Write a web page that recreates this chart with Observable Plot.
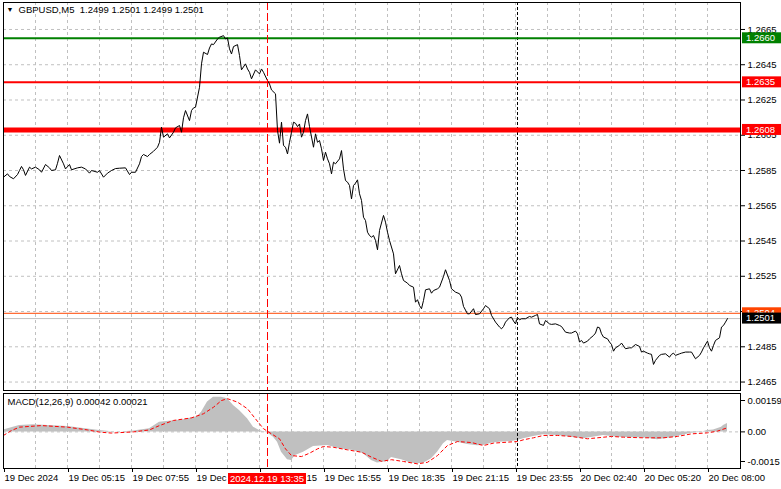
<!DOCTYPE html>
<html><head><meta charset="utf-8">
<script src="https://cdn.jsdelivr.net/npm/d3@7"></script>
<script src="https://cdn.jsdelivr.net/npm/@observablehq/plot@0.6"></script>
<style>
html,body{margin:0;padding:0;background:#fff;}
#chart{position:relative;width:781px;height:489px;overflow:hidden;background:#fff;}
#chart svg{position:absolute;left:0;}
</style></head><body><div id="chart"></div>
<script>
// ---------- data ----------
const symbol = "GBPUSD,M5";
const ohlc = [1.2499, 1.2501, 1.2499, 1.2501];
const macdParams = [12, 26, 9];
const macdNow = [0.00042, 0.00021];

const priceBar = [0,2,3,5,7,8,9,10,11,13,14,16,18,19,21,23,24,26,27,28,30,31,33,34,37,39,41,43,44,47,48,50,52,54,56,58,61,63,64,66,68,69,70,72,73,75,77,78,79,80,82,83,85,86,88,89,90,91,93,94,95,96,98,99,100,102,103,104,105,107,108,110,111,112,113,114,115,117,118,119,121,122,123,
124,126,128,129,130,132,133,134,136,
137,138,139,140,141,142,143,144,145,146,147,148,149,150,151,152,153,155,156,157,158,159,160,161,162,163,164,165,166,168,169,170,171,172,173,174,175,176,177,178,179,180,181,182,183,184,185,186,187,188,190,191,192,193,195,196,198,199,200,202,203,205,206,207,208,209,210,211,213,214,215,217,218,220,221,223,224,226,228,229,230,232,233,235,236,238,240,241,243,244,
246,248,249,250,251,253,254,255,256,257,258,259,261,263,264,266,267,268,270,271,273,274,276,278,279,281,283,284,286,287,288,289,290,292,293,295,296,297,298,299,300,302,303,304,305,306,308,309,311,313,314,316,318,319,320,322,323,324,325,326,328,329,331,333,334,335,336,338,339,341,343,344,346,348,349,350,352,353,354,355,356,358,359,360,361,362];
const priceClose = [1.25812,1.25831,1.25816,1.25803,1.25827,1.25850,1.25873,1.25854,1.25822,1.25869,1.25859,1.25869,1.25854,1.25840,1.25884,1.25865,1.25850,1.25854,1.25891,1.25935,1.25888,1.25859,1.25884,1.25854,1.25865,1.25869,1.25859,1.25835,1.25850,1.25840,1.25850,1.25812,1.25835,1.25850,1.25861,1.25863,1.25865,1.25827,1.25840,1.25840,1.25888,1.25929,1.25941,1.25929,1.25941,1.25959,1.25982,1.26010,1.26096,1.26039,1.26058,1.26035,1.26067,1.26092,1.26105,1.26067,1.26149,1.26190,1.26133,1.26190,1.26205,1.26209,1.26322,1.26455,1.26521,1.26508,1.26545,1.26568,1.26564,1.26596,1.26606,1.26615,1.26596,1.26602,1.26540,1.26511,1.26553,1.26564,1.26502,1.26421,1.26455,1.26426,1.26407,
1.26370,1.26421,1.26398,1.26426,1.26407,1.26360,1.26341,1.26307,1.26285,
1.26077,1.26005,1.26124,1.25992,1.25982,1.25944,1.26010,1.26067,1.26124,1.26118,1.26099,1.26114,1.26039,1.26067,1.26133,1.26171,1.26099,1.25982,1.26058,1.26010,1.26020,1.25973,1.25907,1.25954,1.25916,1.25888,1.25831,1.25897,1.25888,1.25916,1.25963,1.25859,1.25793,1.25784,1.25765,1.25689,1.25765,1.25778,1.25797,1.25718,1.25680,1.25585,1.25566,1.25500,1.25481,1.25472,1.25481,1.25453,1.25400,1.25510,1.25595,1.25557,1.25500,1.25453,1.25377,1.25264,1.25311,1.25264,1.25226,1.25211,1.25198,1.25188,1.25103,1.25117,1.25084,1.25066,1.25113,1.25173,1.25179,1.25154,1.25169,1.25179,1.25188,1.25249,1.25287,1.25226,1.25179,1.25160,1.25151,1.25132,1.25079,1.25037,1.25037,1.25066,1.25033,1.25037,1.25066,1.25084,1.25066,1.25028,
1.24990,1.24962,1.24952,1.24965,1.24990,1.25015,1.25018,1.24996,1.24980,1.25015,1.25003,1.25009,1.25009,1.25022,1.25018,1.25028,1.25033,1.24980,1.24971,1.24999,1.24980,1.24977,1.24980,1.24971,1.24965,1.24933,1.24928,1.24928,1.24939,1.24924,1.24877,1.24886,1.24871,1.24882,1.24895,1.24914,1.24928,1.24962,1.24958,1.24924,1.24905,1.24895,1.24877,1.24863,1.24825,1.24844,1.24858,1.24871,1.24839,1.24844,1.24844,1.24863,1.24852,1.24820,1.24825,1.24814,1.24810,1.24807,1.24750,1.24773,1.24801,1.24807,1.24810,1.24791,1.24807,1.24814,1.24801,1.24810,1.24814,1.24820,1.24820,1.24820,1.24782,1.24801,1.24820,1.24844,1.24882,1.24844,1.24825,1.24858,1.24886,1.24901,1.24962,1.24971,1.24990,1.25010];

const histBar = [0,8,15,32,48,57,65,73,78,90,97,99,102,105,109,112,115,118,122,125,128,132,135,137,139,142,144,146,150,155,162,168,175,180,184,187,192,194,199,204,207,210,214,217,220,222,227,232,237,240,244,248,254,257,260,265,270,277,284,290,297,300,307,314,320,327,334,339,344,349,352,355,359,360,362];
const histValue = [0.0001,0.00032,0.00036,0.00027,0.00007,-0.00002,0.00004,0.00016,0.00049,0.00061,0.00078,0.001,0.00151,0.00176,0.00176,0.00168,0.00134,0.00108,0.00066,0.00024,0.00007,-0.00005,-0.00027,-0.00052,-0.00103,-0.00141,-0.00145,-0.0012,-0.00103,-0.00074,-0.00069,-0.00086,-0.00094,-0.00111,-0.00145,-0.00158,-0.0015,-0.0013,-0.00141,-0.00159,-0.00162,-0.00159,-0.00136,-0.00103,-0.0006,-0.00044,-0.00052,-0.00064,-0.0007,-0.00069,-0.00057,-0.00052,-0.00049,-0.00044,-0.00035,-0.00023,-0.00015,-0.00018,-0.00027,-0.00035,-0.00023,-0.00018,-0.00027,-0.0003,-0.0003,-0.0004,-0.0003,-0.00018,-0.00007,-0.00002,0.00007,0.0001,0.00024,0.00033,0.00042];

const signalBar = [0,4,8,19,32,42,48,54,65,73,78,85,94,100,105,109,112,117,122,126,130,134,138,141,144,149,153,157,160,165,172,179,184,189,194,200,207,212,217,222,227,234,240,245,252,257,260,265,270,277,284,292,297,304,310,320,330,337,344,352,357,362];
const signalValue = [-0.00018,0.00007,0.00024,0.00032,0.00024,0.0001,-0.00001,-0.00006,0.0,0.0001,0.00032,0.00058,0.00071,0.00092,0.00125,0.00159,0.00168,0.00151,0.00117,0.00066,0.00016,-0.0001,-0.00035,-0.00086,-0.0012,-0.00125,-0.00108,-0.00086,-0.00074,-0.00078,-0.00091,-0.00103,-0.00128,-0.00149,-0.00141,-0.0015,-0.00162,-0.00154,-0.0012,-0.00069,-0.00049,-0.00054,-0.00069,-0.00057,-0.00052,-0.00049,-0.0004,-0.0003,-0.00018,-0.00018,-0.00023,-0.00035,-0.0003,-0.00023,-0.00027,-0.0003,-0.0003,-0.00023,-0.0001,-0.00005,0.00004,0.00021];

const levelPrices = [1.2660, 1.2635, 1.2608, 1.2504];
const bidPrice = 1.2501;
const priceTicks = [1.2665,1.2645,1.2625,1.2605,1.2585,1.2565,1.2545,1.2525,1.2505,1.2485,1.2465];
const macdTicks = [0.00159, 0, -0.0015];
const macdTickLabels = ["0.00159", "0.00", "-0.0015"];
const timeTicks = [0,32,64,96,128,160,192,224,256,288,320,352];
const timeLabels = ["19 Dec 2024","19 Dec 05:15","19 Dec 07:55","19 Dec 10:35","19 Dec 13:15","19 Dec 15:55","19 Dec 18:35","19 Dec 21:15","19 Dec 23:55","20 Dec 02:40","20 Dec 05:20","20 Dec 08:00"];
const crossBar = 132;
const crossLabel = "2024.12.19 13:35";
const daySepBar = 257;
const gridBars = d3.range(16, 368, 16);

// ---------- styles ----------
const FONT = '"Liberation Sans", Arial, sans-serif';
const FS = "9.5px";
const levelStyle = [
  {color: "#008000", width: 2},
  {color: "#ff0000", width: 2},
  {color: "#ff0000", width: 5},
  {color: "#ff4500", width: 1}
];
const GRID = {stroke: "#c0c0c0", strokeOpacity: 1, strokeDasharray: "3,3", strokeWidth: 1};
const W = 781;
const xDomain = [0, 368.5];

const priceRows = priceBar.map((b, i) => ({bar: b, close: priceClose[i]}));
const histRows = histBar.map((b, i) => ({bar: b, value: histValue[i]}));
const sigRows = signalBar.map((b, i) => ({bar: b, value: signalValue[i]}));
const levelRows = levelPrices.map((p, i) => ({price: p, ...levelStyle[i]}));
const fmt4 = d3.format(".4f");

const main = Plot.plot({
  width: W, height: 392,
  marginLeft: 3, marginRight: 41, marginTop: 2, marginBottom: 2,
  style: {fontFamily: FONT, fontSize: FS, color: "#000", background: "#fff", overflow: "visible"},
  x: {domain: xDomain, axis: null, label: null},
  y: {domain: [1.24602, 1.26803], axis: null, label: null},
  marks: [
    Plot.ruleX(gridBars, GRID),
    Plot.ruleY(priceTicks, GRID),
    Plot.ruleX([daySepBar], {stroke: "#000", strokeDasharray: "3,2"}),
    Plot.ruleY([bidPrice], {stroke: "#c0c0c0"}),
    ...levelRows.map(r => Plot.ruleY([r.price], {stroke: r.color, strokeWidth: r.width})),
    Plot.line(priceRows, {x: "bar", y: "close", stroke: "#000", strokeWidth: 1}),
    Plot.ruleX([crossBar], {stroke: "#ff0000", strokeDasharray: "8,3"}),
    Plot.axisY(priceTicks, {anchor: "right", tickSize: 4, tickPadding: 3, tickFormat: fmt4, label: null, fontSize: FS}),
    Plot.frame({stroke: "#000"}),
    Plot.text(["\u25BC"], {frameAnchor: "top-left", dx: 3, dy: 5, lineAnchor: "top", textAnchor: "start", fontSize: 7, fill: "#000"}),
    Plot.text([`${symbol}  ${ohlc.map(fmt4).join(" ")}`], {frameAnchor: "top-left", dx: 15, dy: 4, lineAnchor: "top", textAnchor: "start", fill: "#000"})
  ]
});

const macd = Plot.plot({
  width: W, height: 97,
  marginLeft: 3, marginRight: 41, marginTop: 1, marginBottom: 21,
  style: {fontFamily: FONT, fontSize: FS, color: "#000", background: "#fff", overflow: "visible"},
  x: {domain: xDomain, axis: null, label: null},
  y: {domain: [-0.001855, 0.001945], axis: null, label: null},
  marks: [
    Plot.ruleX(gridBars, GRID),
    Plot.ruleY([0], GRID),
    Plot.areaY(histRows, {x: "bar", y: "value", fill: "#c0c0c0"}),
    Plot.line(sigRows, {x: "bar", y: "value", stroke: "#ff0000", strokeDasharray: "3,3", strokeWidth: 1}),
    Plot.ruleX([daySepBar], {stroke: "#000", strokeDasharray: "3,2"}),
    Plot.ruleX([crossBar], {stroke: "#ff0000", strokeDasharray: "8,3"}),
    Plot.axisY(macdTicks, {anchor: "right", tickSize: 4, tickPadding: 3, tickFormat: d => macdTickLabels[macdTicks.indexOf(d)], label: null, fontSize: FS}),
    Plot.axisX(timeTicks, {anchor: "bottom", tickSize: 4, tickPadding: 2, textAnchor: "start", dx: 1, tickFormat: d => timeLabels[timeTicks.indexOf(d)], label: null, fontSize: FS}),
    Plot.frame({stroke: "#000"}),
    Plot.text([`MACD(${macdParams.join(",")}) ${macdNow.map(v => v.toFixed(5)).join(" ")}`], {frameAnchor: "top-left", dx: 4, dy: 5, lineAnchor: "top", textAnchor: "start", fill: "#000"})
  ]
});

const chart = document.getElementById("chart");
main.style.top = "0px";
macd.style.top = "392px";
chart.appendChild(main);
chart.appendChild(macd);

// level price tags on the right axis (positioned through the plot's own y scale)
const ys = main.scale("y");
const xRange = main.scale("x").range;
const tagG = d3.select(main).append("g").attr("font-family", FONT).attr("font-size", FS).attr("text-anchor", "start");
function tag(value, color) {
  const y = ys.apply(value);
  tagG.append("rect").attr("x", xRange[1] + 2).attr("y", y - 5.5).attr("width", 39).attr("height", 11).attr("fill", color);
  tagG.append("text").attr("x", xRange[1] + 6).attr("y", y).attr("dy", "0.35em").attr("text-anchor", "start").attr("fill", "#fff").text(fmt4(value));
}
levelRows.forEach(r => tag(r.price, r.color));
tag(bidPrice, "#000");

// crosshair time tag on the time axis
const mx = macd.scale("x");
const myRange = macd.scale("y").range;
const cx = mx.apply(crossBar);
const cg = d3.select(macd).append("g").attr("font-family", FONT).attr("font-size", FS);
cg.append("rect").attr("x", cx - 39).attr("y", myRange[0] + 5).attr("width", 78).attr("height", 11).attr("fill", "#ff0000");
cg.append("text").attr("x", cx).attr("y", myRange[0] + 10.5).attr("dy", "0.35em").attr("text-anchor", "middle").attr("fill", "#fff").text(crossLabel);
</script></body></html>
